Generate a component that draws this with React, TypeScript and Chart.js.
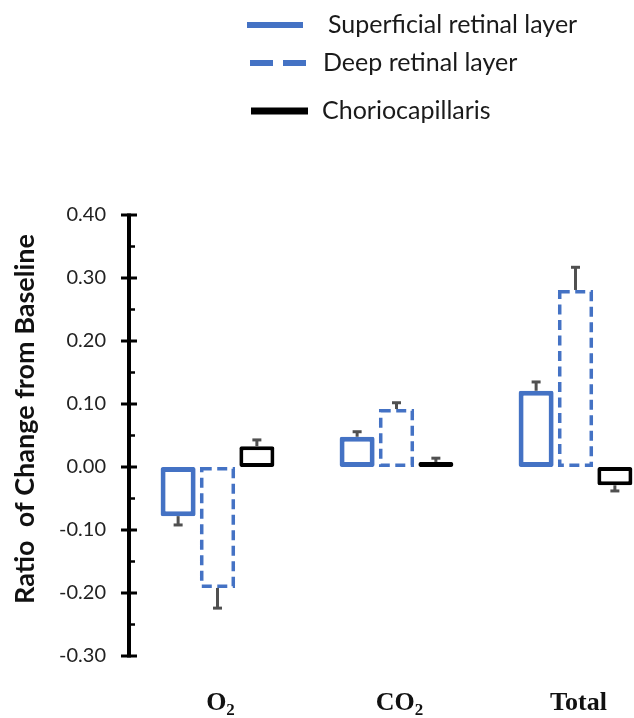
import React, { useEffect, useRef } from "react";
import { Chart, registerables } from "chart.js";

Chart.register(...registerables);

const categories = ["O₂", "CO₂", "Total"];
const seriesNames = ["Superficial retinal layer", "Deep retinal layer", "Choriocapillaris"];
const superficial = [-0.078, 0.048, 0.121];
const superficialErr = [0.014, 0.008, 0.014];
const deep = [-0.192, 0.092, 0.281];
const deepErr = [0.032, 0.01, 0.036];
const chorio = [0.033, 0.008, -0.029];
const chorioErr = [0.01, 0.006, 0.009];
const yTickValues = [-0.3, -0.2, -0.1, 0, 0.1, 0.2, 0.3, 0.4];
const yTitle = "Ratio  of Change from Baseline";

const BLUE = "#4472C4";
const BLACK = "#000000";
const ERR = "#505050";

const SUBS: Record<string, string> = {
  "₀": "0", "₁": "1", "₂": "2", "₃": "3", "₄": "4",
  "₅": "5", "₆": "6", "₇": "7", "₈": "8", "₉": "9",
};

const customPlugin = {
  id: "customDraw",
  afterDatasetsDraw(chart: any) {
    const ctx = chart.ctx as CanvasRenderingContext2D;
    const yScale = chart.scales.y;
    // dashed bars for the deep layer
    const metaDeep = chart.getDatasetMeta(1);
    ctx.save();
    metaDeep.data.forEach((el: any) => {
      const { x, y, base, width } = el.getProps(["x", "y", "base", "width"], true);
      const lw = 3.5;
      const left = x - width / 2 + lw / 2;
      const right = x + width / 2 - lw / 2;
      const top = Math.min(y, base) + lw / 2;
      const bottom = Math.max(y, base) - lw / 2;
      ctx.setLineDash([10, 5.5]);
      ctx.lineWidth = lw;
      ctx.strokeStyle = BLUE;
      ctx.strokeRect(left, top, right - left, bottom - top);
    });
    ctx.restore();

    // error bars
    ctx.save();
    ctx.strokeStyle = ERR;
    ctx.lineWidth = 3;
    chart.data.datasets.forEach((ds: any, di: number) => {
      const meta = chart.getDatasetMeta(di);
      meta.data.forEach((el: any, j: number) => {
        const v = ds.data[j];
        const e = ds.errorBars[j];
        const end = v >= 0 ? v + e : v - e;
        const p0 = yScale.getPixelForValue(v);
        const p1 = yScale.getPixelForValue(end);
        const x = el.x;
        ctx.beginPath();
        ctx.moveTo(x, p0);
        ctx.lineTo(x, p1);
        ctx.stroke();
        ctx.beginPath();
        ctx.moveTo(x - 4.5, p1);
        ctx.lineTo(x + 4.5, p1);
        ctx.stroke();
      });
    });
    ctx.restore();
  },
  afterDraw(chart: any) {
    const ctx = chart.ctx as CanvasRenderingContext2D;
    const area = chart.chartArea;
    const yScale = chart.scales.y;
    const xScale = chart.scales.x;
    const ax = area.left + 1;

    // y axis line and ticks
    ctx.save();
    ctx.strokeStyle = BLACK;
    ctx.lineWidth = 4;
    ctx.beginPath();
    ctx.moveTo(ax, yScale.getPixelForValue(yTickValues[yTickValues.length - 1]) - 1.5);
    ctx.lineTo(ax, yScale.getPixelForValue(yTickValues[0]) + 1.5);
    ctx.stroke();
    ctx.lineWidth = 3;
    yTickValues.forEach((v) => {
      const py = yScale.getPixelForValue(v);
      ctx.beginPath();
      ctx.moveTo(ax - 8, py);
      ctx.lineTo(ax + 8, py);
      ctx.stroke();
    });
    ctx.lineWidth = 2.5;
    for (let i = 0; i < yTickValues.length - 1; i++) {
      const mid = (yTickValues[i] + yTickValues[i + 1]) / 2;
      const py = yScale.getPixelForValue(mid);
      ctx.beginPath();
      ctx.moveTo(ax, py);
      ctx.lineTo(ax + 6, py);
      ctx.stroke();
    }
    ctx.restore();

    // y title
    ctx.save();
    ctx.translate(25, 419);
    ctx.rotate(-Math.PI / 2);
    ctx.font = "bold 27px Lato";
    ctx.fillStyle = "#111111";
    ctx.textAlign = "center";
    ctx.textBaseline = "middle";
    ctx.fillText(yTitle, 0, 0);
    ctx.restore();

    // x labels with subscripts
    ctx.save();
    ctx.fillStyle = "#111111";
    ctx.textBaseline = "alphabetic";
    ctx.textAlign = "left";
    const mainFont = "bold 26px 'Liberation Serif'";
    const subFont = "bold 17px 'Liberation Serif'";
    categories.forEach((label, i) => {
      const parts: { t: string; sub: boolean }[] = [];
      for (const ch of label) {
        const sub = ch in SUBS;
        const t = sub ? SUBS[ch] : ch;
        const last = parts[parts.length - 1];
        if (last && last.sub === sub) last.t += t;
        else parts.push({ t, sub });
      }
      let total = 0;
      parts.forEach((p) => {
        ctx.font = p.sub ? subFont : mainFont;
        total += ctx.measureText(p.t).width;
      });
      let x = xScale.getPixelForValue(i) + 3 - total / 2;
      const base = 710;
      parts.forEach((p) => {
        ctx.font = p.sub ? subFont : mainFont;
        ctx.fillText(p.t, x, p.sub ? base + 5 : base);
        x += ctx.measureText(p.t).width;
      });
    });
    ctx.restore();

    // legend
    const items = [
      { x0: 247, x1: 303, y: 25, tx: 328, lw: 6, dash: [] as number[], color: BLUE },
      { x0: 250, x1: 306, y: 63, tx: 323, lw: 6, dash: [23, 10], color: BLUE },
      { x0: 251, x1: 308, y: 111, tx: 322, lw: 7, dash: [] as number[], color: BLACK },
    ];
    ctx.save();
    chart.data.datasets.forEach((ds: any, i: number) => {
      const it = items[i];
      ctx.strokeStyle = it.color;
      ctx.lineWidth = it.lw;
      ctx.setLineDash(it.dash);
      ctx.beginPath();
      ctx.moveTo(it.x0, it.y);
      ctx.lineTo(it.x1, it.y);
      ctx.stroke();
      ctx.setLineDash([]);
      ctx.font = "25px Lato";
      ctx.fillStyle = "#1a1a1a";
      ctx.textAlign = "left";
      ctx.textBaseline = "middle";
      ctx.fillText(ds.label, it.tx, it.y);
    });
    ctx.restore();
  },
};

export default function App() {
  const canvasRef = useRef<HTMLCanvasElement | null>(null);

  useEffect(() => {
    document.body.style.margin = "0";
    document.body.style.overflow = "hidden";
    const canvas = canvasRef.current;
    if (!canvas) return;
    const chart = new Chart(canvas, {
      type: "bar",
      data: {
        labels: categories,
        datasets: [
          {
            label: seriesNames[0],
            data: superficial,
            errorBars: superficialErr,
            backgroundColor: "#ffffff",
            borderColor: BLUE,
            borderWidth: 5,
            borderSkipped: false,
            borderRadius: 2,
          } as any,
          {
            label: seriesNames[1],
            data: deep,
            errorBars: deepErr,
            backgroundColor: "rgba(255,255,255,0)",
            borderColor: BLUE,
            borderWidth: 0,
            borderSkipped: false,
          } as any,
          {
            label: seriesNames[2],
            data: chorio,
            errorBars: chorioErr,
            backgroundColor: "#ffffff",
            borderColor: BLACK,
            borderWidth: 4,
            borderSkipped: false,
            borderRadius: 2,
          } as any,
        ],
      },
      options: {
        animation: false,
        responsive: false,
        devicePixelRatio: 1,
        layout: { padding: { top: 215, left: 0, right: 15, bottom: 0 } },
        datasets: { bar: { categoryPercentage: 0.66, barPercentage: 0.89 } },
        plugins: {
          legend: { display: false },
          tooltip: { enabled: false },
        },
        scales: {
          x: {
            type: "category",
            grid: { display: false, drawTicks: false },
            border: { display: false },
            ticks: { display: false },
            afterFit: (s: any) => {
              s.height = 62;
            },
          },
          y: {
            min: yTickValues[0],
            max: yTickValues[yTickValues.length - 1],
            grid: { display: false, drawTicks: false },
            border: { display: false },
            ticks: {
              stepSize: 0.1,
              padding: 22,
              color: "#222222",
              font: { family: "Lato", size: 20 },
              callback: (v: any) => Number(v).toFixed(2),
            },
            afterFit: (s: any) => {
              s.width = 128;
            },
          },
        },
      } as any,
      plugins: [customPlugin],
    });
    return () => chart.destroy();
  }, []);

  return (
    <div style={{ width: 634, height: 718, overflow: "hidden", position: "relative" }}>
      <canvas ref={canvasRef} width={680} height={718} style={{ display: "block" }} />
    </div>
  );
}
